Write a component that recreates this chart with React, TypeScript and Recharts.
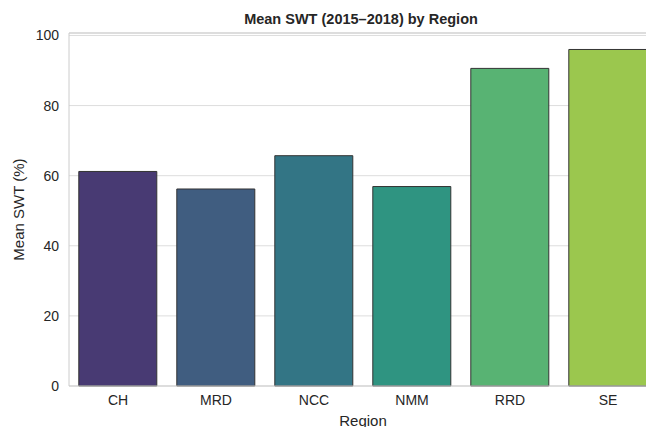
import React from "react";
import { BarChart, Bar, XAxis, YAxis, CartesianGrid, Cell, ReferenceLine } from "recharts";

const regions = ["CH", "MRD", "NCC", "NMM", "RRD", "SE"];
const meanSwt = [61.2, 56.2, 65.7, 56.9, 90.6, 96.0];
const barColors = ["#483A73", "#405D80", "#337585", "#2F9481", "#58B373", "#9BC74E"];
const yTicks = [0, 20, 40, 60, 80, 100];

const data = regions.map((r, i) => ({ region: r, value: meanSwt[i] }));

const FONT = "'Liberation Sans', Arial, sans-serif";

export default function App() {
  return (
    <div style={{ position: "absolute", left: 0, top: 0, width: 646, height: 427, overflow: "hidden", background: "#fff", fontFamily: FONT }}>
      <div style={{ position: "absolute", left: 0, top: 10, width: 722, textAlign: "center", fontWeight: "bold", fontSize: 14.5, color: "#262626", lineHeight: "18px" }}>
        Mean SWT (2015–2018) by Region
      </div>
      <BarChart
        width={670}
        height={427}
        data={data}
        margin={{ top: 33, right: 13, bottom: 0, left: 0 }}
        barCategoryGap="10%"
      >
        <CartesianGrid horizontal vertical={false} stroke="#dddddd" />
        <ReferenceLine y={100.7} stroke="#cccccc" strokeWidth={1} ifOverflow="extendDomain" />
        <XAxis
          dataKey="region"
          tickSize={0}
          tickMargin={9}
          height={41}
          axisLine={{ stroke: "#cccccc" }}
          tick={{ fill: "#262626", fontSize: 14, fontFamily: FONT }}
          label={{ value: "Region", position: "insideBottom", offset: 1, fill: "#262626", fontSize: 15, fontFamily: FONT }}
        />
        <YAxis
          width={69}
          domain={[0, 100.7]}
          ticks={yTicks}
          tickSize={0}
          tickMargin={10}
          axisLine={{ stroke: "#cccccc" }}
          tick={{ fill: "#262626", fontSize: 14, fontFamily: FONT }}
          label={{ value: "Mean SWT (%)", angle: -90, position: "insideLeft", offset: 19, fill: "#262626", fontSize: 15, fontFamily: FONT, style: { textAnchor: "middle" } }}
        />
        <Bar dataKey="value" isAnimationActive={false} stroke="#333333" strokeWidth={1}>
          {data.map((d, i) => (
            <Cell key={d.region} fill={barColors[i]} />
          ))}
        </Bar>
      </BarChart>
    </div>
  );
}
